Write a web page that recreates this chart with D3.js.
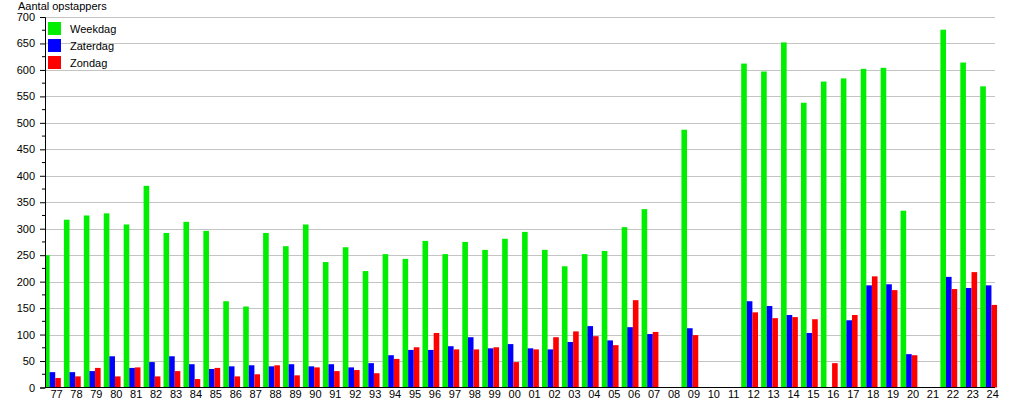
<!DOCTYPE html>
<html>
<head>
<meta charset="utf-8">
<script src="https://cdn.jsdelivr.net/npm/d3@7"></script>
<style>
  body { margin: 0; background: #fff; }
  svg text { font-family: "Liberation Sans", Arial, sans-serif; font-size: 11px; fill: #000; }
</style>
</head>
<body>
<div id="chart"></div>
<script>
// jaren (twee cijfers)
const years = ['77','78','79','80','81','82','83','84','85','86','87','88','89','90','91','92','93','94','95','96','97','98','99',
               '00','01','02','03','04','05','06','07','08','09','10','11','12','13','14','15','16','17','18','19','20','21','22','23','24'];

const weekdag = [250,317,325,329,308,381,292,313,296,163,153,292,267,308,237,265,220,252,243,277,252,275,260,
                 281,294,260,229,252,258,303,337,0,487,0,0,612,597,652,538,578,584,602,604,334,0,676,614,569];
const zaterdag = [29,29,31,59,37,48,59,44,35,40,42,40,44,40,44,38,46,61,71,71,78,95,74,
                  82,74,72,86,116,89,114,101,0,112,0,0,163,154,137,103,0,127,193,195,63,0,209,188,193];
const zondag = [18,21,37,21,38,21,31,16,37,21,25,42,23,38,31,33,27,54,76,103,72,72,76,
                48,72,95,106,97,80,165,105,0,99,0,0,142,131,133,129,46,137,210,184,61,0,186,218,156];

const seriesNames = ['Weekdag','Zaterdag','Zondag'];
const seriesColors = ['#00ee00','#0000ff','#ff0000'];
const yTicks = d3.range(0, 701, 50);

const width = 1015, height = 400;
const plotLeft = 45, plotRight = 995, plotTop = 17, plotBottom = 387.5;

const svg = d3.select('#chart').append('svg')
    .attr('width', width)
    .attr('height', height);

const x = d3.scaleBand()
    .domain(years)
    .range([44, 44 + years.length * 19.92])
    .paddingInner(0).paddingOuter(0);

const y = d3.scaleLinear()
    .domain([0, 700])
    .range([plotBottom, plotTop]);

// gridlines
svg.append('g')
    .attr('id', 'gridG')
    .selectAll('line')
    .data(yTicks.filter(d => d > 0))
    .join('line')
    .attr('x1', plotLeft).attr('x2', plotRight)
    .attr('y1', d => Math.round(y(d)) + 0.5)
    .attr('y2', d => Math.round(y(d)) + 0.5)
    .attr('stroke', '#c4c4c4')
    .attr('stroke-width', 1);

// bars
const barW = 5.6;
const series = [weekdag, zaterdag, zondag];
series.forEach((vals, s) => {
    svg.append('g')
        .attr('class', 'bars-' + s)
        .selectAll('rect')
        .data(years.map((yr, i) => ({yr: yr, v: vals[i]})).filter(d => d.v > 0))
        .join('rect')
        .attr('x', d => Math.max(x(d.yr) + s * barW, plotLeft + 1))
        .attr('width', d => x(d.yr) + s * barW < plotLeft + 1 ? barW - (plotLeft + 1 - x(d.yr) - s * barW) : barW)
        .attr('y', d => y(d.v))
        .attr('height', d => y(0) - y(d.v))
        .attr('fill', seriesColors[s]);
});

// y axis
const yAxis = d3.axisLeft(y)
    .tickValues(yTicks)
    .tickSize(5)
    .tickPadding(5);
const yG = svg.append('g')
    .attr('transform', `translate(${plotLeft},0)`)
    .call(yAxis);
yG.select('.domain').attr('stroke', '#000');
yG.selectAll('text').style('font-size', '11px');

// minor ticks
svg.append('g')
    .selectAll('line')
    .data(d3.range(25, 700, 50))
    .join('line')
    .attr('x1', plotLeft - 3).attr('x2', plotLeft)
    .attr('y1', d => y(d)).attr('y2', d => y(d))
    .attr('stroke', '#000');

// x axis line
svg.append('line')
    .attr('x1', plotLeft).attr('x2', plotRight)
    .attr('y1', plotBottom).attr('y2', plotBottom)
    .attr('stroke', '#000')
    .attr('stroke-width', 1.2);

// x labels
svg.append('g')
    .selectAll('text')
    .data(years)
    .join('text')
    .attr('x', d => x(d) + 12.5)
    .attr('y', 398)
    .attr('text-anchor', 'middle')
    .text(d => d);

// title
svg.append('text')
    .attr('x', 18)
    .attr('y', 10)
    .text('Aantal opstappers');

// legend
const legend = svg.append('g').attr('id', 'legendG');
seriesNames.forEach((name, i) => {
    legend.append('rect')
        .attr('x', 48).attr('y', 22 + i * 17)
        .attr('width', 13).attr('height', 13)
        .attr('fill', seriesColors[i]);
    legend.append('text')
        .attr('x', 70).attr('y', 33 + i * 17)
        .text(name);
});
</script>
</body>
</html>
